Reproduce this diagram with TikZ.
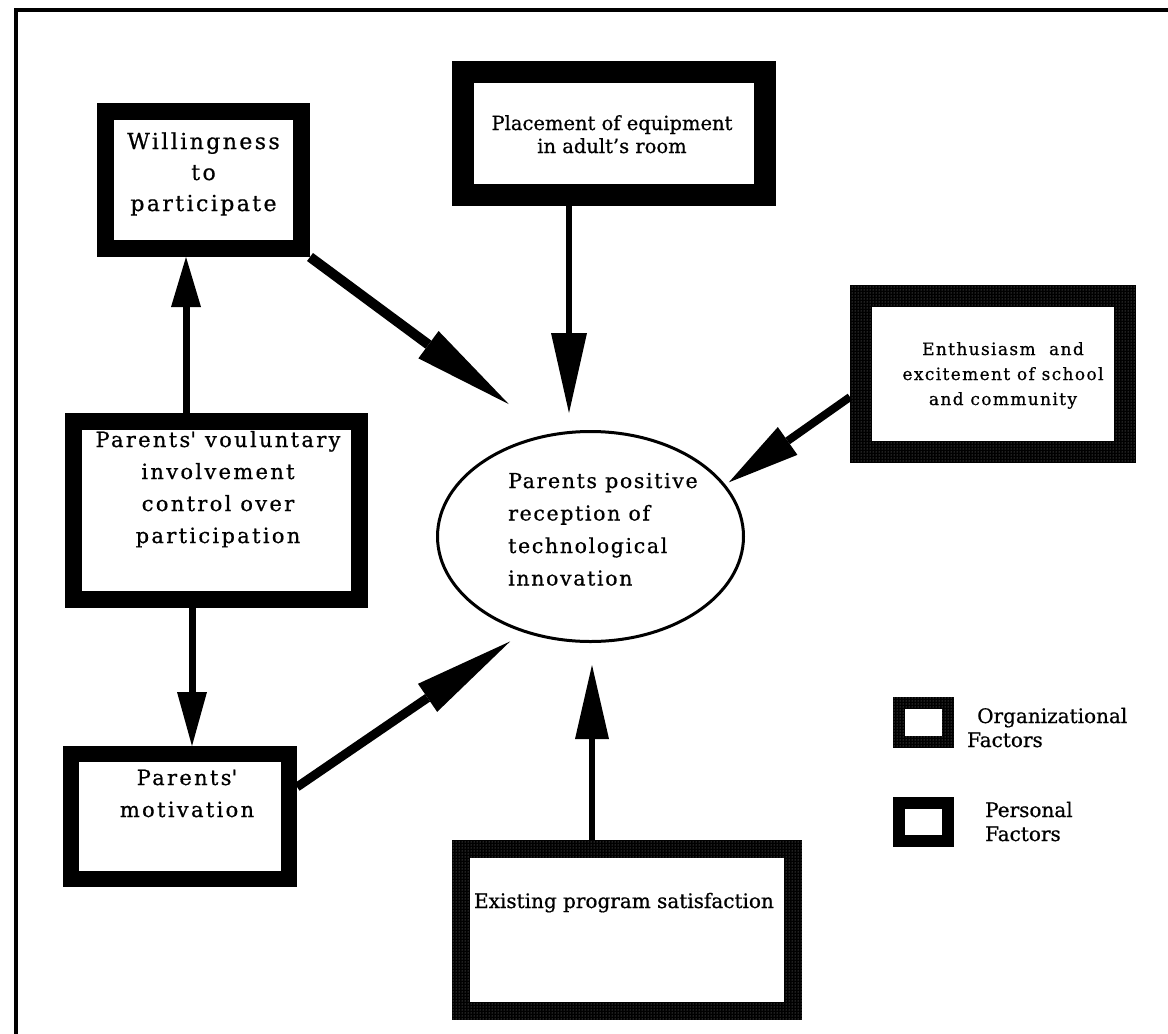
\documentclass[tikz,border=0pt]{standalone}
\usepackage{fontspec}
\setmainfont{DejaVu Serif}
\newfontfamily\fW[LetterSpace=11,FakeBold=0.7]{DejaVu Serif}
\newfontfamily\fE[LetterSpace=8,FakeBold=0.7]{DejaVu Serif}
\newfontfamily\fN[FakeBold=0.7]{DejaVu Serif}
\usetikzlibrary{arrows.meta,calc,patterns,shapes.geometric}
\newcommand\stippleborder[2]{%
  \fill[pattern=dots, pattern color=black!45, even odd rule]
    (#1.south west) rectangle (#1.north east)
    ($(#1.south west)+(#2,-#2)$) rectangle ($(#1.north east)+(-#2,#2)$);}
\begin{document}
\begin{tikzpicture}[x=1pt,y=-1pt,
  box/.style={draw=black, fill=white, inner sep=0pt},
  txt/.style={inner sep=0pt, align=center, anchor=base},
  thickarrow/.style={line width=#1, draw=black},
  tipbig/.style={-{Triangle[length=100pt,width=34pt,line width=0pt]}},
  tipmid/.style={-{Triangle[length=80pt,width=36pt,line width=0pt]}},
  tipsmall/.style={-{Triangle[length=50pt,width=30pt,line width=0pt]}}
]
\useasboundingbox (0,0) rectangle (1168,1034);
\fill[white] (0,0) rectangle (1168,1034);
% outer frame (right and bottom run off the page)
\draw[line width=4pt] (16,1060) -- (16,10) -- (1190,10);

% boxes
\node[box, line width=17pt, minimum width=196pt, minimum height=137pt] (will) at (203.5,180) {};
\node[box, line width=22pt, minimum width=302pt, minimum height=123pt] (place) at (614,133.5) {};
\node[box, line width=22pt, minimum width=264pt, minimum height=156pt] (enth) at (993,374) {};
\stippleborder{enth}{22}
\node[box, line width=17pt, minimum width=286pt, minimum height=178pt] (vol) at (216.5,510.5) {};
\node[box, line width=16pt, minimum width=218pt, minimum height=125pt] (mot) at (180,816.5) {};
\node[box, line width=18pt, minimum width=332pt, minimum height=162pt] (exist) at (627,930) {};
\stippleborder{exist}{18}
\node[draw, ellipse, line width=3pt, fill=white, inner sep=0pt, minimum width=306pt, minimum height=210pt] (ell) at (590.5,536.5) {};

% legend boxes
\node[box, line width=12pt, minimum width=49pt, minimum height=39pt] (legO) at (923.5,722.5) {};
\stippleborder{legO}{12}
\node[box, line width=12pt, minimum width=49pt, minimum height=38pt] (legP) at (923.5,822) {};

% texts (anchor=base is the baseline of the last line)
\node[txt, font=\fW\fontsize{22}{31}\selectfont] (willT) at (203.5,211) {Willingness\\to\\participate};
\node[txt, font=\fN\fontsize{19.5}{23}\selectfont] (placeT) at (612,153) {Placement of equipment\\in adult’s room};
\node[txt, font=\fE\fontsize{17}{25}\selectfont] (enthT) at (1003,405) {Enthusiasm\ \ and\\excitement of school\\and community};
\node[txt, font=\fW\fontsize{21}{32}\selectfont] (volT) at (218,543) {Parents\textquotesingle\ vouluntary\\involvement\\control over\\participation};
\node[txt, font=\fW\fontsize{21}{32}\selectfont] (motT) at (187,817) {Parents\textquotesingle\\motivation};
\node[txt, align=left, anchor=base west, font=\fE\fontsize{20.5}{32.5}\selectfont] (ellT) at (508,585.5) {Parents positive\\reception of\\technological\\innovation};
\node[txt, font=\fN\fontsize{20}{25}\selectfont] (existT) at (624,908) {Existing program satisfaction};
\node[txt, align=left, anchor=base west, font=\fN\fontsize{20}{24}\selectfont] (legOT) at (967,747) {\hspace*{10pt}Organizational\\Factors};
\node[txt, align=left, anchor=base west, font=\fN\fontsize{20}{24}\selectfont] (legPT) at (985,841) {Personal\\Factors};

% connectors
\draw[thickarrow=10pt, tipbig, shorten >=50pt] (will.south east) -- (ell.112.3);
\coordinate (pa) at ($(place.south)+(-45,0)$);
\draw[thickarrow=6pt, tipmid, shorten >=17pt] (pa) -- (pa |- ell.north);
\coordinate (ea) at ($(enth.west)+(0,23)$);
\draw[thickarrow=8pt, -{Triangle[length=72pt,width=34pt,line width=0pt]}, shorten >=4pt] (ea) -- (ell.21);
\coordinate (ma) at ($(mot.east)+(0,-29.5)$);
\draw[thickarrow=9pt, tipbig, shorten >=16pt] (ma) -- (ell.235.9);
\coordinate (xa) at ($(exist.north)+(-35,0)$);
\draw[thickarrow=6pt, -{Triangle[length=74pt,width=34pt,line width=0pt]}, shorten >=22pt] (xa) -- (xa |- ell.south);
\coordinate (v1) at ($(vol.north)+(-30.5,0)$);
\draw[thickarrow=7pt, tipsmall] (v1) -- (v1 |- will.south);
\coordinate (v2) at ($(vol.south)+(-24.5,0)$);
\draw[thickarrow=7pt, -{Triangle[length=54pt,width=30pt,line width=0pt]}] (v2) -- (v2 |- mot.north);
\end{tikzpicture}
\end{document}
